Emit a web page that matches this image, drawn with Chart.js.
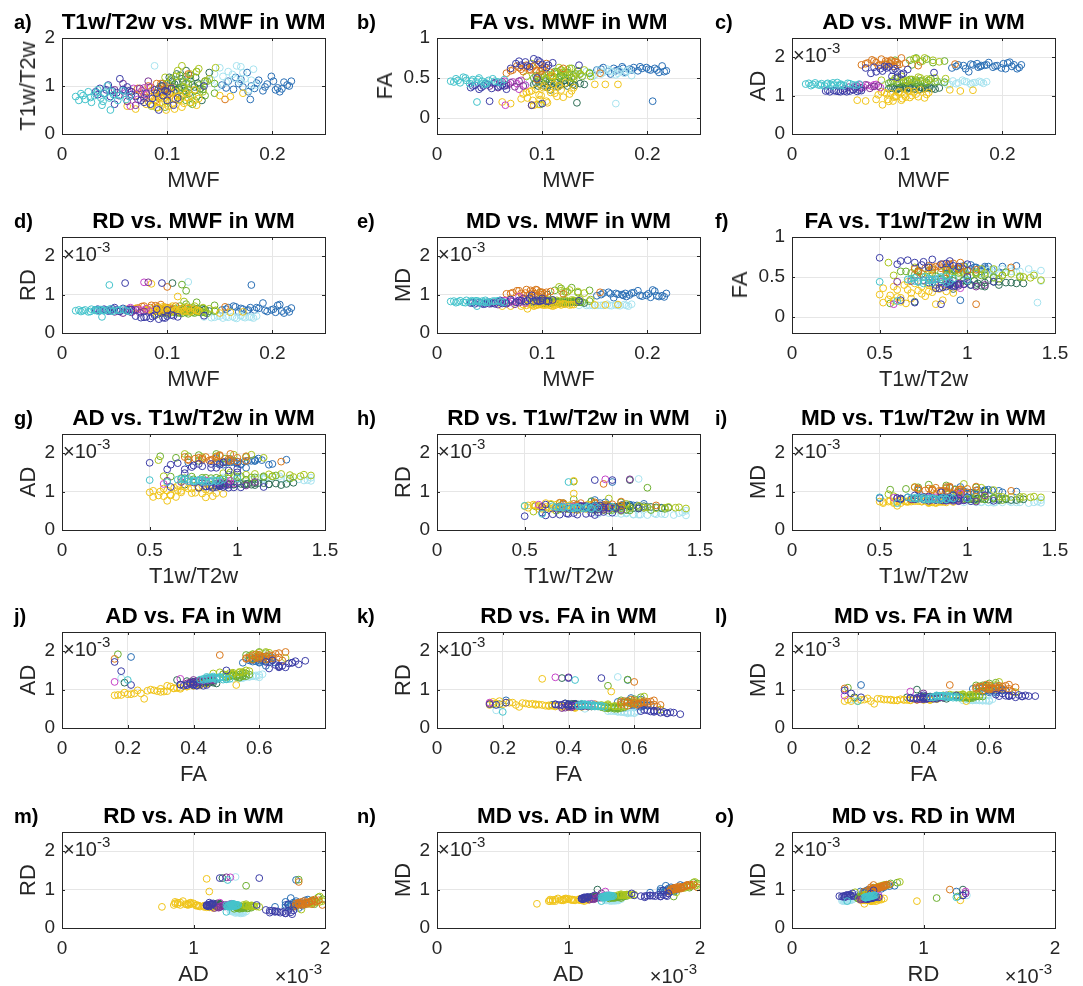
<!DOCTYPE html>
<html lang="en">
<head>
<meta charset="UTF-8" />
<title>WM scatter matrix</title>
<script src="https://cdn.jsdelivr.net/npm/chart.js"></script>
<style>
  body {
    margin: 0;
    background: #fff;
    width: 1083px;
    height: 986px;
    position: relative;
    overflow: hidden;
    font-family: 'Liberation Sans', Arial, Helvetica, sans-serif;
  }
  canvas { position: absolute; }
  .title, .letter, .xlab, .ylab, .exp {
    position: absolute;
    white-space: nowrap;
    line-height: 1;
  }
  .title { font-weight: bold; font-size: 22.5px; color: #000; transform: translate(-50%, -50%); }
  .letter { font-weight: bold; font-size: 20px; color: #000; transform: translateY(-50%); }
  .xlab { font-size: 22px; color: #262626; transform: translate(-50%, -50%); }
  .ylab { font-size: 22px; color: #262626; transform: translate(-50%, -50%) rotate(-90deg); }
  .exp { font-size: 20px; color: #262626; }
  .exp .sup { font-size: 15px; position: relative; top: -9px; }
</style>
</head>
<body>
<script>
  // columns of every row: MWF, T1w/T2w, FA, AD, RD, MD  (AD/RD/MD in 10^-3 mm^2/s)
  const measures = ['MWF', 'T1w/T2w', 'FA', 'AD', 'RD', 'MD'];

  const cyanPts = [
    [0.013,0.78,0.46,1.30,0.58,0.82],[0.018,0.84,0.49,1.26,0.56,0.79],[0.022,0.72,0.44,1.33,0.60,0.84],
    [0.025,0.88,0.51,1.28,0.55,0.80],[0.028,0.66,0.47,1.31,0.62,0.85],[0.031,0.80,0.43,1.25,0.59,0.81],
    [0.034,0.92,0.48,1.32,0.57,0.82],[0.037,0.75,0.45,1.29,0.61,0.84],[0.040,0.85,0.50,1.27,0.58,0.81],
    [0.043,1.00,0.46,1.34,0.60,0.83],[0.046,0.50,0.44,1.30,0.63,0.85],[0.049,0.82,0.47,1.26,0.57,0.80],
    [0.053,0.70,0.49,1.32,0.59,0.83],[0.058,0.90,0.45,1.28,0.62,0.84],[0.064,0.78,0.48,1.30,0.56,0.80],
    [0.016,0.70,0.45,1.32,0.60,0.83],[0.020,0.80,0.47,1.29,0.58,0.81],[0.027,0.76,0.50,1.27,0.56,0.79],
    [0.033,0.86,0.46,1.30,0.61,0.84],[0.039,0.68,0.48,1.33,0.59,0.83],[0.047,0.88,0.43,1.28,0.57,0.80],
    [0.055,0.80,0.46,1.31,0.60,0.83],[0.061,0.72,0.44,1.27,0.58,0.81],
    [0.038,0.60,0.20,1.25,0.42,0.70],[0.045,0.75,0.42,1.26,1.25,0.80]
  ];
  const indigoPts = [
    [0.032,0.88,0.38,1.12,0.60,0.78],[0.036,0.95,0.41,1.10,0.58,0.76],[0.040,0.84,0.36,1.13,0.62,0.79],
    [0.044,1.02,0.40,1.11,0.57,0.75],[0.048,0.90,0.42,1.14,0.63,0.80],[0.052,0.86,0.37,1.10,0.60,0.77],
    [0.055,1.15,0.44,1.12,0.56,0.76],[0.058,0.93,0.39,1.15,0.64,0.81],[0.062,0.98,0.41,1.11,0.59,0.77],
    [0.066,0.82,0.36,1.13,0.61,0.78],[0.034,0.82,0.40,1.14,0.62,0.79],[0.042,0.92,0.38,1.12,0.60,0.78],
    [0.046,0.78,0.43,1.10,0.58,0.76],[0.064,0.90,0.40,1.14,0.61,0.79],
    [0.050,0.62,0.21,1.12,0.66,0.80],[0.070,0.78,0.62,1.72,0.44,0.87],
    [0.075,0.70,0.68,1.58,0.40,0.80],[0.080,0.85,0.66,1.62,0.42,0.84],[0.084,0.62,0.70,1.70,0.38,0.82],
    [0.088,0.92,0.64,1.76,0.46,0.90],[0.092,0.50,0.74,1.75,0.36,0.83],[0.096,0.80,0.72,1.66,0.40,0.83],
    [0.100,0.88,0.67,1.62,0.44,0.85],[0.104,0.95,0.63,1.55,0.47,0.83],[0.110,0.75,0.69,1.68,0.42,0.86],
    [0.078,0.66,0.71,1.74,0.41,0.85],[0.086,0.74,0.65,1.64,0.43,0.84],[0.098,0.90,0.70,1.70,0.39,0.83],
    [0.106,0.60,0.66,1.58,0.45,0.83],
    [0.135,1.00,0.66,1.60,0.45,0.84],[0.060,0.90,0.40,1.20,1.30,0.85],[0.095,1.00,0.50,1.50,1.30,0.85],
    [0.090,0.85,0.16,1.72,0.62,0.98],[0.100,0.70,0.18,1.48,0.60,0.90]
  ];
  const purplePts = [
    [0.050,0.92,0.40,1.18,0.55,0.76],[0.054,0.80,0.43,1.22,0.57,0.79],[0.058,1.05,0.38,1.16,0.52,0.74],
    [0.062,0.68,0.45,1.25,0.58,0.80],[0.066,0.88,0.41,1.20,0.54,0.76],[0.070,0.60,0.44,1.28,0.60,0.83],
    [0.074,0.95,0.39,1.19,0.53,0.75],[0.078,0.75,0.46,1.24,0.56,0.79],[0.082,1.10,0.40,1.25,1.32,0.90]
  ];
  const magentaPts = [
    [0.060,0.85,0.44,1.25,0.60,0.82],[0.064,0.78,0.46,1.28,0.62,0.84],[0.068,0.95,0.42,1.22,0.58,0.79],
    [0.072,0.72,0.45,1.27,0.61,0.83],[0.076,0.90,0.43,1.24,0.59,0.81],[0.080,0.82,0.47,1.29,0.63,0.85],
    [0.084,0.98,0.41,1.21,0.57,0.78],[0.065,0.58,0.16,1.20,0.66,0.84],[0.078,0.96,0.36,1.28,1.32,0.95]
  ];
  const yellowPts = [
    [0.062,0.58,0.20,0.88,0.62,0.70],[0.070,0.52,0.18,0.86,0.64,0.70],[0.082,0.68,0.30,1.02,0.60,0.74],
    [0.086,0.60,0.25,0.76,0.55,0.63],[0.088,0.72,0.33,1.08,0.58,0.75],[0.091,0.55,0.22,0.90,0.66,0.74],
    [0.094,0.82,0.36,1.05,0.56,0.72],[0.096,0.65,0.17,0.86,0.68,0.74],[0.099,0.50,0.28,0.98,0.62,0.74],
    [0.102,0.78,0.40,1.10,0.54,0.73],[0.105,0.62,0.19,0.92,0.70,0.77],[0.108,0.88,0.32,0.96,0.60,0.72],
    [0.111,0.70,0.42,1.12,0.56,0.75],[0.114,0.56,0.27,1.00,0.64,0.76],[0.118,0.84,0.35,1.04,0.58,0.73],
    [0.122,0.66,0.44,1.15,0.55,0.75],[0.126,0.92,0.30,0.94,0.62,0.73],[0.130,0.74,0.38,1.08,0.57,0.74],
    [0.080,0.62,0.24,0.90,0.60,0.70],[0.090,0.66,0.34,1.04,0.57,0.73],[0.097,0.74,0.29,0.96,0.63,0.74],
    [0.101,0.58,0.38,1.08,0.55,0.73],[0.104,0.86,0.21,0.88,0.66,0.73],[0.107,0.52,0.36,1.02,0.58,0.73],
    [0.112,0.80,0.31,0.95,0.61,0.72],[0.116,0.64,0.40,1.10,0.57,0.75],[0.120,0.76,0.26,0.97,0.65,0.76],
    [0.128,0.60,0.34,1.03,0.59,0.74],
    [0.150,0.80,0.42,1.15,0.52,0.73],[0.160,0.78,0.42,1.12,0.54,0.73],[0.172,0.85,0.42,1.14,0.55,0.74],
    [0.085,0.78,0.32,1.10,1.28,0.72],[0.110,0.78,0.53,1.12,0.95,0.70],[0.092,0.82,0.16,0.85,0.60,0.70],
    [0.098,0.68,0.23,0.98,0.66,0.77]
  ];
  const orangePts = [
    [0.066,0.88,0.56,1.80,0.62,1.02],[0.072,0.95,0.60,1.85,0.65,1.05],[0.078,0.82,0.63,1.90,0.70,1.10],
    [0.082,1.00,0.58,1.78,0.58,0.98],[0.085,0.90,0.66,1.95,0.72,1.13],[0.088,0.85,0.61,1.82,0.60,1.01],
    [0.091,0.78,0.64,1.88,0.68,1.08],[0.094,1.05,0.59,1.92,0.74,1.13],[0.097,0.92,0.67,1.76,0.55,0.95],
    [0.100,0.80,0.62,1.86,0.66,1.06],[0.104,0.96,0.68,1.98,0.60,1.06],[0.108,0.72,0.57,1.84,0.70,1.08],
    [0.070,0.80,0.59,1.83,0.63,1.03],[0.076,0.90,0.65,1.93,0.69,1.10],[0.080,0.76,0.61,1.86,0.62,1.03],
    [0.084,0.96,0.63,1.80,0.66,1.04],[0.089,0.70,0.60,1.90,0.71,1.11],[0.093,0.86,0.66,1.84,0.61,1.02],
    [0.098,1.00,0.58,1.88,0.67,1.07],[0.102,0.84,0.64,1.81,0.63,1.02],
    [0.120,1.25,0.62,1.78,0.64,1.02],[0.155,0.72,0.56,1.82,0.68,1.06],[0.095,0.88,0.48,1.90,0.62,1.12],
    [0.090,1.05,0.16,1.80,0.64,1.03],[0.100,0.95,0.60,1.80,1.20,1.00]
  ];
  const limePts = [
    [0.085,0.58,0.52,1.40,0.62,0.88],[0.098,1.18,0.48,1.45,0.58,0.87],[0.104,0.96,0.56,1.50,0.55,0.87],
    [0.110,1.32,0.50,1.38,0.60,0.86],[0.114,1.42,0.46,1.42,0.56,0.85],[0.118,1.08,0.60,1.96,0.68,1.10],
    [0.122,1.25,0.54,1.46,0.57,0.86],[0.126,0.70,0.62,1.98,0.70,1.12],[0.130,1.36,0.49,1.40,0.58,0.85],
    [0.134,0.88,0.58,1.92,0.66,1.08],[0.140,1.15,0.60,1.88,0.63,1.04],[0.146,1.38,0.52,1.44,0.59,0.87],
    [0.100,1.05,0.54,1.44,0.57,0.86],[0.108,1.20,0.52,1.40,0.59,0.86],[0.120,0.92,0.57,1.48,0.56,0.86],
    [0.128,1.30,0.51,1.43,0.58,0.86],[0.136,1.10,0.55,1.46,0.57,0.87],[0.124,0.80,0.60,1.90,0.65,1.07],
    [0.090,0.55,0.68,1.82,0.48,0.93],[0.116,0.98,0.63,1.96,0.82,1.20]
  ];
  const greenPts = [
    [0.092,0.75,0.50,1.32,0.55,0.80],[0.096,1.00,0.52,1.38,0.52,0.80],[0.100,0.68,0.55,1.35,0.50,0.78],
    [0.104,1.15,0.49,1.40,0.57,0.84],[0.108,0.90,0.53,1.33,0.53,0.79],[0.112,1.22,0.56,1.42,0.52,0.82],
    [0.116,0.82,0.51,1.36,0.56,0.82],[0.120,1.05,0.54,1.31,0.50,0.77],[0.124,0.62,0.57,1.39,0.54,0.82],
    [0.128,1.30,0.50,1.34,0.55,0.81],[0.132,0.95,0.55,1.44,0.53,0.83],[0.138,1.10,0.52,1.37,0.51,0.80],
    [0.145,0.85,0.56,1.35,0.57,0.83],
    [0.094,0.88,0.53,1.36,0.54,0.81],[0.102,0.95,0.51,1.34,0.52,0.79],[0.106,0.74,0.54,1.39,0.55,0.83],
    [0.110,1.08,0.52,1.37,0.53,0.81],[0.114,0.98,0.55,1.41,0.51,0.81],[0.118,0.70,0.53,1.35,0.54,0.81],
    [0.122,1.15,0.50,1.38,0.56,0.83],[0.126,0.90,0.54,1.33,0.52,0.79],[0.130,1.02,0.52,1.40,0.55,0.83],
    [0.136,0.80,0.55,1.36,0.53,0.81],
    [0.112,0.72,0.58,1.92,0.70,1.11],[0.118,0.88,0.60,1.98,0.75,1.16],
    [0.122,0.65,0.57,1.88,0.66,1.07],[0.128,0.78,0.62,1.95,0.80,1.18],[0.134,0.93,0.59,1.86,0.64,1.05],
    [0.145,1.05,0.56,1.90,0.72,1.11],[0.098,0.56,0.17,1.92,0.62,1.05],[0.114,0.78,0.58,1.80,1.26,0.82],
    [0.118,1.20,0.52,1.40,1.10,0.78]
  ];
  const darkGreenPts = [
    [0.092,0.95,0.42,1.18,0.60,0.79],[0.096,1.05,0.40,1.20,0.62,0.81],[0.100,0.88,0.44,1.16,0.58,0.78],
    [0.103,1.12,0.46,1.22,0.57,0.79],[0.106,0.98,0.41,1.19,0.63,0.81],[0.109,1.25,0.43,1.17,0.59,0.78],
    [0.112,0.92,0.45,1.21,0.61,0.80],[0.115,1.08,0.39,1.18,0.64,0.82],[0.118,1.32,0.42,1.23,0.58,0.80],
    [0.121,0.85,0.47,1.16,0.56,0.76],[0.124,1.02,0.40,1.20,0.60,0.80],[0.127,1.18,0.44,1.19,0.62,0.81],
    [0.131,0.94,0.41,1.22,0.59,0.80],[0.136,1.10,0.43,1.17,0.61,0.80],[0.140,1.28,0.42,1.20,0.57,0.78],
    [0.094,1.00,0.44,1.21,0.59,0.80],[0.098,0.90,0.42,1.17,0.61,0.80],[0.102,1.18,0.40,1.19,0.58,0.78],
    [0.107,1.04,0.45,1.18,0.60,0.79],[0.111,0.96,0.42,1.20,0.62,0.81],[0.114,1.15,0.44,1.22,0.60,0.81],
    [0.117,0.90,0.41,1.17,0.58,0.78],[0.122,1.22,0.43,1.21,0.60,0.80],[0.126,0.98,0.46,1.18,0.59,0.79],
    [0.129,1.06,0.42,1.20,0.63,0.82],
    [0.133,0.70,0.19,1.18,0.62,0.80],[0.105,1.10,0.38,1.22,1.30,1.00],[0.108,0.92,0.35,1.25,0.60,0.80]
  ];
  const lightCyanPts = [
    [0.135,1.05,0.55,1.30,0.42,0.72],[0.142,1.12,0.58,1.35,0.40,0.72],[0.148,0.98,0.52,1.28,0.44,0.72],
    [0.153,1.20,0.60,1.38,0.39,0.72],[0.158,1.30,0.57,1.33,0.41,0.72],[0.162,1.24,0.61,1.40,0.43,0.75],
    [0.166,1.42,0.58,1.36,0.38,0.71],[0.170,1.08,0.54,1.30,0.45,0.73],[0.174,1.15,0.59,1.34,0.40,0.71],
    [0.178,0.92,0.56,1.37,0.42,0.74],[0.182,1.35,0.60,1.32,0.39,0.70],[0.185,1.02,0.53,1.36,0.44,0.75],
    [0.145,1.25,0.57,1.34,0.41,0.72],[0.156,1.08,0.55,1.31,0.43,0.72],[0.164,1.16,0.59,1.37,0.40,0.72],
    [0.172,1.28,0.56,1.33,0.42,0.72],[0.180,1.12,0.58,1.35,0.41,0.72],[0.150,1.38,0.54,1.29,0.44,0.72],
    [0.170,1.40,0.18,1.30,0.46,0.74],[0.088,1.42,0.45,1.28,0.50,0.78],[0.120,1.15,0.55,1.32,1.33,0.85]
  ];
  const steelBluePts = [
    [0.152,1.02,0.60,1.72,0.60,0.97],[0.158,1.10,0.63,1.80,0.66,1.04],[0.163,0.93,0.58,1.78,0.70,1.06],
    [0.168,1.05,0.62,1.62,0.55,0.92],[0.172,0.98,0.60,1.80,0.62,1.01],[0.176,1.28,0.64,1.83,0.58,1.00],
    [0.179,0.72,0.57,1.76,0.66,1.03],[0.183,0.95,0.61,1.79,0.60,0.99],[0.187,1.12,0.63,1.86,0.64,1.05],
    [0.191,0.90,0.59,1.74,0.78,1.10],[0.195,1.04,0.62,1.78,0.56,0.96],[0.199,1.20,0.63,1.72,0.60,0.98],
    [0.203,0.92,0.60,1.70,0.54,0.93],[0.207,0.88,0.62,1.87,0.74,1.09],[0.211,1.08,0.57,1.80,0.52,0.95],
    [0.214,1.02,0.65,1.70,0.60,0.97],[0.218,1.10,0.59,1.80,0.65,1.03],[0.165,1.18,0.55,1.70,0.68,1.02],
    [0.156,0.96,0.61,1.76,0.62,1.00],[0.170,1.14,0.59,1.82,0.64,1.03],[0.177,0.88,0.62,1.74,0.60,0.98],
    [0.185,1.06,0.60,1.80,0.66,1.04],[0.193,0.98,0.64,1.77,0.59,0.98],[0.201,1.10,0.61,1.83,0.62,1.02],
    [0.209,0.94,0.60,1.76,0.57,0.97],[0.216,1.00,0.58,1.73,0.55,0.94],
    [0.205,0.96,0.21,1.85,0.72,1.12],[0.180,1.00,0.58,1.78,1.25,0.95]
  ];

  // draw order and colours
  const groups = [cyanPts, indigoPts, purplePts, magentaPts, yellowPts, orangePts,
                  limePts, greenPts, darkGreenPts, lightCyanPts, steelBluePts];
  const groupColors = ['#44c3cb', '#3b3ca6', '#7b3493', '#c543c8', '#f0c419', '#d9771a',
                       '#a9c41c', '#6bae2e', '#2e6d55', '#a7e3ef', '#2a6fb5'];

  // axis limits / ticks per measure, depending on whether it sits on x or y
  const xMin = [0, 0, 0, 0, 0, 0];
  const xMax = [0.25, 1.5, 0.8, 2, 2, 2];
  const xTicks = [[0, 0.1, 0.2], [0, 0.5, 1, 1.5], [0, 0.2, 0.4, 0.6], [0, 1, 2], [0, 1, 2], [0, 1, 2]];
  const yMin = [0, 0, -0.2, 0, 0, 0];
  const yMax = [0.25, 2, 1, 2.5, 2.5, 2.5];
  const yTicks = [[0, 0.1, 0.2], [0, 1, 2], [0, 0.5, 1], [0, 1, 2], [0, 1, 2], [0, 1, 2]];
  const hasExponent = [false, false, false, true, true, true];

  const panelLetters = ['a)', 'b)', 'c)', 'd)', 'e)', 'f)', 'g)', 'h)', 'i)', 'j)', 'k)', 'l)', 'm)', 'n)', 'o)'];
  const panelX = [0, 0, 0, 0, 0, 1, 1, 1, 1, 2, 2, 2, 3, 3, 4];
  const panelY = [1, 2, 3, 4, 5, 2, 3, 4, 5, 3, 4, 5, 4, 5, 5];

  // layout (pixels)
  const colLeft = [62, 437, 792];
  const rowTop = [38, 237, 434, 632, 832];
  const letterLeft = [14, 357, 715];
  const boxW = 263, boxH = 96;
  const padL = 62, padT = 20, padR = 26, padB = 40;
  const FONT = "'Liberation Sans', Arial, Helvetica, sans-serif";

  const fmt = v => String(Number(v.toFixed(2)));

  const boxPlugin = {
    id: 'box',
    afterDraw(chart) {
      const { ctx, chartArea: a, scales } = chart;
      ctx.save();
      ctx.strokeStyle = '#262626';
      ctx.lineWidth = 1;
      ctx.beginPath();
      scales.x.ticks.forEach(t => {
        const px = Math.round(scales.x.getPixelForValue(t.value)) + 0.5;
        ctx.moveTo(px, a.bottom); ctx.lineTo(px, a.bottom - 3);
        ctx.moveTo(px, a.top); ctx.lineTo(px, a.top + 3);
      });
      scales.y.ticks.forEach(t => {
        const py = Math.round(scales.y.getPixelForValue(t.value)) + 0.5;
        ctx.moveTo(a.left, py); ctx.lineTo(a.left + 3, py);
        ctx.moveTo(a.right, py); ctx.lineTo(a.right - 3, py);
      });
      ctx.stroke();
      ctx.strokeRect(Math.round(a.left) + 0.5, Math.round(a.top) + 0.5,
                     Math.round(a.right - a.left), Math.round(a.bottom - a.top));
      ctx.restore();
    }
  };

  function addDiv(cls, html, style) {
    const d = document.createElement('div');
    d.className = cls;
    d.innerHTML = html;
    Object.assign(d.style, style);
    document.body.appendChild(d);
    return d;
  }

  panelLetters.forEach((letter, i) => {
    const col = i % 3, row = Math.floor(i / 3);
    const bx = colLeft[col], by = rowTop[row];
    const xm = panelX[i], ym = panelY[i];

    const canvas = document.createElement('canvas');
    canvas.width = padL + boxW + padR;
    canvas.height = padT + boxH + padB;
    canvas.style.left = (bx - padL) + 'px';
    canvas.style.top = (by - padT) + 'px';
    document.body.appendChild(canvas);

    const tickFont = { family: FONT, size: 19 };
    new Chart(canvas.getContext('2d'), {
      type: 'scatter',
      data: {
        datasets: groups.map((pts, g) => ({
          data: pts.map(p => ({ x: p[xm], y: p[ym] })),
          borderColor: groupColors[g],
          backgroundColor: 'rgba(0,0,0,0)',
          pointRadius: 3.4,
          pointHoverRadius: 3.4,
          borderWidth: 1
        }))
      },
      options: {
        responsive: false,
        animation: false,
        events: [],
        layout: { padding: { top: padT, left: 0, right: padR, bottom: 0 } },
        plugins: { legend: { display: false }, tooltip: { enabled: false } },
        scales: {
          x: {
            type: 'linear',
            min: xMin[xm],
            max: xMax[xm],
            afterFit: s => { s.height = padB; },
            afterBuildTicks: s => { s.ticks = xTicks[xm].map(v => ({ value: v })); },
            grid: { color: '#e6e6e6', drawTicks: false },
            border: { display: false },
            ticks: { padding: 9, color: '#262626', font: tickFont, maxRotation: 0, autoSkip: false, callback: v => fmt(v) }
          },
          y: {
            type: 'linear',
            min: yMin[ym],
            max: yMax[ym],
            afterFit: s => { s.width = padL; },
            afterBuildTicks: s => { s.ticks = yTicks[ym].map(v => ({ value: v })); },
            grid: { color: '#e6e6e6', drawTicks: false },
            border: { display: false },
            ticks: { padding: 7, color: '#262626', font: tickFont, autoSkip: false, callback: v => fmt(v) }
          }
        }
      },
      plugins: [boxPlugin]
    });

    // texts
    addDiv('title', measures[ym] + ' vs. ' + measures[xm] + ' in WM',
           { left: (bx + boxW / 2) + 'px', top: (by - 16) + 'px' });
    addDiv('letter', letter, { left: letterLeft[col] + 'px', top: (by - 16) + 'px' });
    addDiv('xlab', measures[xm], { left: (bx + boxW / 2) + 'px', top: (by + boxH + 46) + 'px' });
    const yOff = ym === 2 ? 52 : 34;
    addDiv('ylab', measures[ym], { left: (bx - yOff) + 'px', top: (by + boxH / 2) + 'px' });
    if (hasExponent[ym]) {
      addDiv('exp', '×10<span class="sup">-3</span>', { left: (bx + 1) + 'px', top: (by + 7) + 'px' });
    }
    if (hasExponent[xm]) {
      addDiv('exp', '×10<span class="sup">-3</span>',
             { right: (1083 - (bx + boxW - 3)) + 'px', top: (by + boxH + 38) + 'px' });
    }
  });
</script>
</body>
</html>
